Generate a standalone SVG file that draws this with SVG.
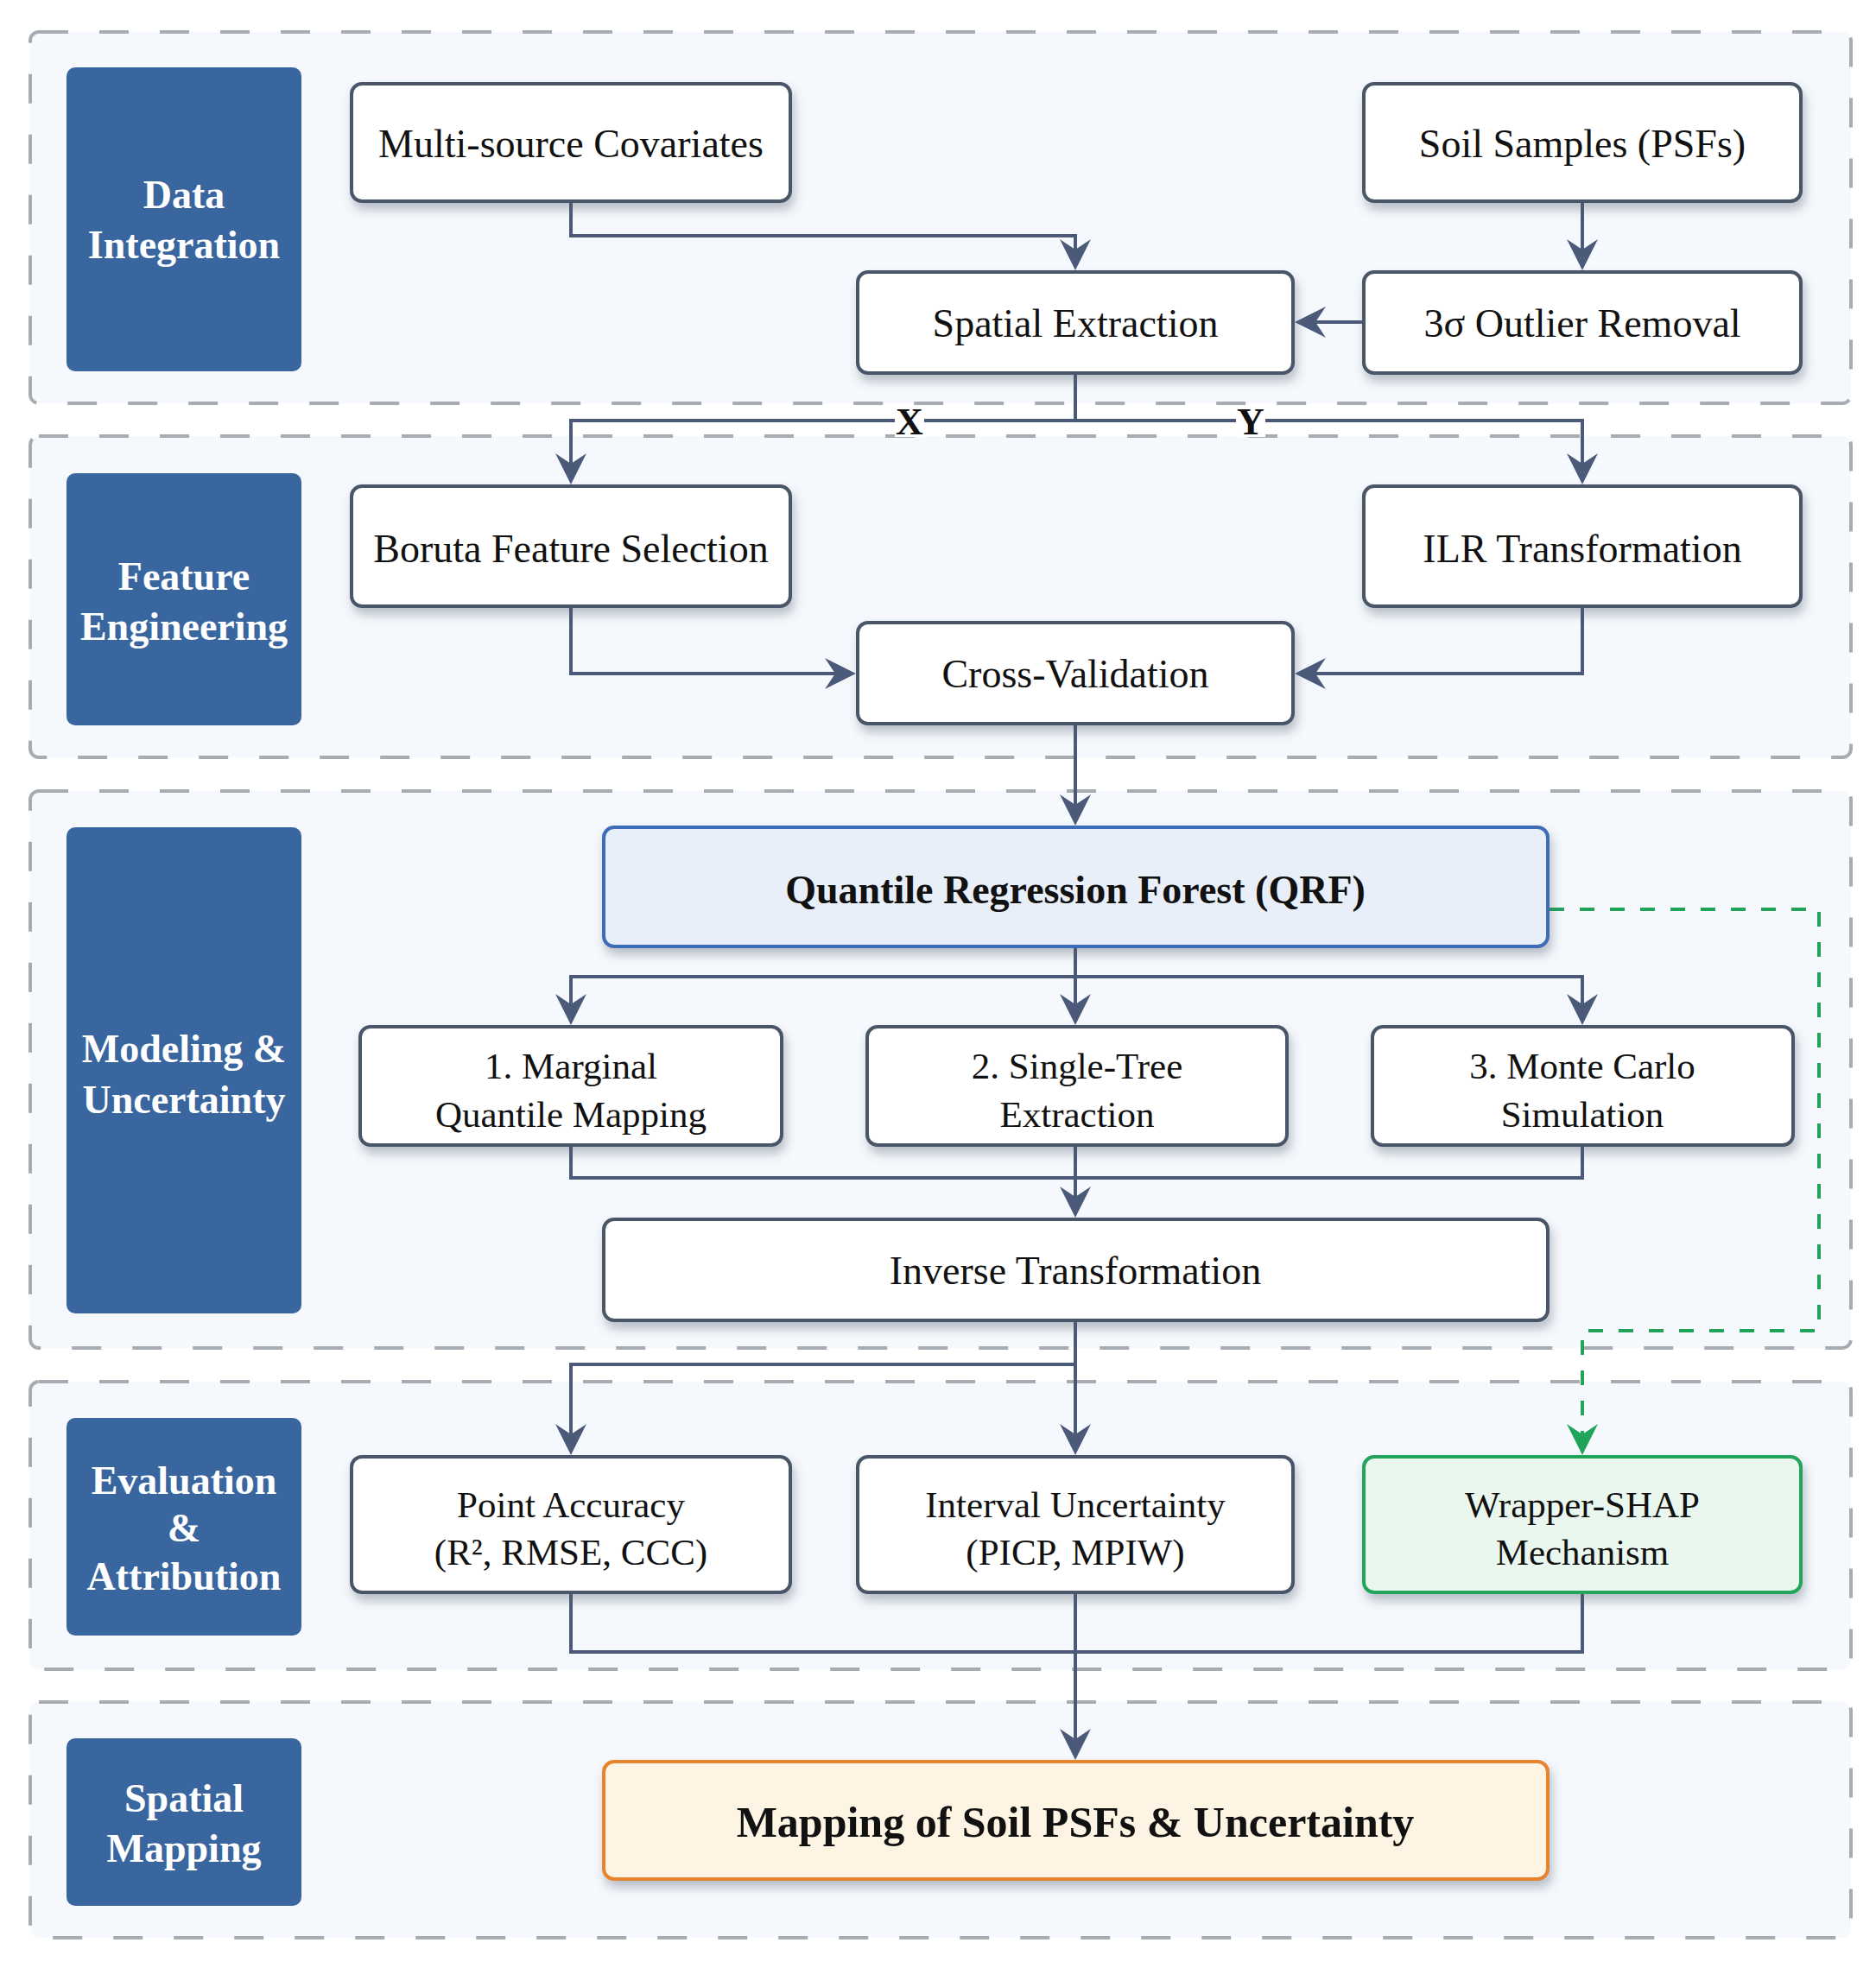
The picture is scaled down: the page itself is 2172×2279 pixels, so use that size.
<svg xmlns="http://www.w3.org/2000/svg" width="2172" height="2279" viewBox="0 0 2172 2279">
<style>
.sec{fill:#f5f8fc;stroke:#a7acb3;stroke-width:4;stroke-dasharray:34 36}
.lbl{fill:#3a66a0}
.lt{font-family:"Liberation Serif","Times New Roman",serif;font-weight:bold;font-size:46px;fill:#ffffff;text-anchor:middle;dominant-baseline:central}
.node{fill:#ffffff;stroke:#4a5468;stroke-width:4}
.t{font-family:"Liberation Serif","Times New Roman",serif;font-size:46px;fill:#111111;text-anchor:middle;dominant-baseline:central}
.t2{font-family:"Liberation Serif","Times New Roman",serif;font-size:43px;fill:#111111;text-anchor:middle;dominant-baseline:central}
.tb{font-family:"Liberation Serif","Times New Roman",serif;font-weight:bold;font-size:46px;fill:#111111;text-anchor:middle;dominant-baseline:central}
.conn{fill:none;stroke:#4b5a78;stroke-width:4}
.green{fill:none;stroke:#22a35a;stroke-width:4;stroke-dasharray:17 18}
</style>
<defs>
<filter id="sh" x="-10%" y="-20%" width="130%" height="160%">
<feDropShadow dx="3" dy="8" stdDeviation="6" flood-color="#4a5468" flood-opacity="0.35"/>
</filter>
<marker id="ah" markerUnits="userSpaceOnUse" markerWidth="36" markerHeight="36" refX="30" refY="18" orient="auto">
<path d="M0,0 L36,18 L0,36 L12,18 Z" fill="#4b5a78"/>
</marker>
<marker id="ahg" markerUnits="userSpaceOnUse" markerWidth="36" markerHeight="36" refX="30" refY="18" orient="auto">
<path d="M0,0 L36,18 L0,36 L12,18 Z" fill="#22a35a"/>
</marker>
</defs>
<rect width="2172" height="2279" fill="#ffffff"/>

<g id="sections">
<rect class="sec" x="35" y="37" width="2108" height="430" rx="10"/>
<rect class="sec" x="35" y="505" width="2108" height="372" rx="10"/>
<rect class="sec" x="35" y="916" width="2108" height="645" rx="10"/>
<rect class="sec" x="35" y="1600" width="2108" height="333" rx="10"/>
<rect class="sec" x="35" y="1971" width="2108" height="273" rx="10"/>
</g>

<g id="connectors">
<path class="conn" d="M661,233 V273 H1245 V307" marker-end="url(#ah)"/>
<path class="conn" d="M1832,233 V307" marker-end="url(#ah)"/>
<path class="conn" d="M1579,373 H1505" marker-end="url(#ah)"/>
<path class="conn" d="M1245,432 V487"/>
<path class="conn" d="M1245,487 H661 V555" marker-end="url(#ah)"/>
<path class="conn" d="M1245,487 H1832 V555" marker-end="url(#ah)"/>
<path class="conn" d="M661,702 V780 H985" marker-end="url(#ah)"/>
<path class="conn" d="M1832,702 V780 H1505" marker-end="url(#ah)"/>
<path class="conn" d="M1245,838 V950" marker-end="url(#ah)"/>
<path class="conn" d="M1245,1096 V1181" marker-end="url(#ah)"/>
<path class="conn" d="M1245,1131 H661 V1181" marker-end="url(#ah)"/>
<path class="conn" d="M1245,1131 H1832 V1181" marker-end="url(#ah)"/>
<path class="conn" d="M661,1326 V1364 H1832 V1326"/>
<path class="conn" d="M1245,1326 V1404" marker-end="url(#ah)"/>
<path class="conn" d="M1245,1529 V1679" marker-end="url(#ah)"/>
<path class="conn" d="M1245,1580 H661 V1679" marker-end="url(#ah)"/>
<path class="conn" d="M661,1844 V1913 H1832 V1844"/>
<path class="conn" d="M1245,1844 V2032" marker-end="url(#ah)"/>
<path class="green" d="M1794,1053 H2106 V1541 H1832 V1679" marker-end="url(#ahg)"/>
<rect x="1036" y="470" width="34" height="36" fill="#ffffff"/>
<rect x="1431" y="470" width="34" height="36" fill="#ffffff"/>
<text class="tb" x="1053" y="488" style="font-size:44px">X</text>
<text class="tb" x="1448" y="488" style="font-size:44px">Y</text>
</g>

<g id="label-data-integration">
<rect class="lbl" x="77" y="78" width="272" height="352" rx="10"/>
<text class="lt" x="213" y="225">Data</text>
<text class="lt" x="213" y="283">Integration</text>
</g>
<g id="label-feature-engineering">
<rect class="lbl" x="77" y="548" width="272" height="292" rx="10"/>
<text class="lt" x="213" y="667">Feature</text>
<text class="lt" x="213" y="725">Engineering</text>
</g>
<g id="label-modeling">
<rect class="lbl" x="77" y="958" width="272" height="563" rx="10"/>
<text class="lt" x="213" y="1214">Modeling &amp;</text>
<text class="lt" x="213" y="1273">Uncertainty</text>
</g>
<g id="label-evaluation">
<rect class="lbl" x="77" y="1642" width="272" height="252" rx="10"/>
<text class="lt" x="213" y="1714">Evaluation</text>
<text class="lt" x="213" y="1769">&amp;</text>
<text class="lt" x="213" y="1825">Attribution</text>
</g>
<g id="label-spatial-mapping">
<rect class="lbl" x="77" y="2013" width="272" height="194" rx="10"/>
<text class="lt" x="213" y="2082">Spatial</text>
<text class="lt" x="213" y="2140">Mapping</text>
</g>

<g id="node-covariates">
<rect class="node" x="407" y="97" width="508" height="136" rx="12" filter="url(#sh)"/>
<text class="t" x="661" y="166">Multi-source Covariates</text>
</g>
<g id="node-soil-samples">
<rect class="node" x="1579" y="97" width="506" height="136" rx="12" filter="url(#sh)"/>
<text class="t" x="1832" y="166">Soil Samples (PSFs)</text>
</g>
<g id="node-spatial-extraction">
<rect class="node" x="993" y="315" width="504" height="117" rx="12" filter="url(#sh)"/>
<text class="t" x="1245" y="374">Spatial Extraction</text>
</g>
<g id="node-outlier">
<rect class="node" x="1579" y="315" width="506" height="117" rx="12" filter="url(#sh)"/>
<text class="t" x="1832" y="374">3σ Outlier Removal</text>
</g>
<g id="node-boruta">
<rect class="node" x="407" y="563" width="508" height="139" rx="12" filter="url(#sh)"/>
<text class="t" x="661" y="635">Boruta Feature Selection</text>
</g>
<g id="node-ilr">
<rect class="node" x="1579" y="563" width="506" height="139" rx="12" filter="url(#sh)"/>
<text class="t" x="1832" y="635">ILR Transformation</text>
</g>
<g id="node-cv">
<rect class="node" x="993" y="721" width="504" height="117" rx="12" filter="url(#sh)"/>
<text class="t" x="1245" y="780">Cross-Validation</text>
</g>
<g id="node-qrf">
<rect class="node" x="699" y="958" width="1093" height="138" rx="12" filter="url(#sh)" style="fill:#e9eff9;stroke:#3d6cb9"/>
<text class="tb" x="1245" y="1030">Quantile Regression Forest (QRF)</text>
</g>
<g id="node-marginal">
<rect class="node" x="417" y="1189" width="488" height="137" rx="12" filter="url(#sh)"/>
<text class="t2" x="661" y="1234">1. Marginal</text>
<text class="t2" x="661" y="1290">Quantile Mapping</text>
</g>
<g id="node-single-tree">
<rect class="node" x="1004" y="1189" width="486" height="137" rx="12" filter="url(#sh)"/>
<text class="t2" x="1247" y="1234">2. Single-Tree</text>
<text class="t2" x="1247" y="1290">Extraction</text>
</g>
<g id="node-monte-carlo">
<rect class="node" x="1589" y="1189" width="487" height="137" rx="12" filter="url(#sh)"/>
<text class="t2" x="1832" y="1234">3. Monte Carlo</text>
<text class="t2" x="1832" y="1290">Simulation</text>
</g>
<g id="node-inverse">
<rect class="node" x="699" y="1412" width="1093" height="117" rx="12" filter="url(#sh)"/>
<text class="t" x="1245" y="1471">Inverse Transformation</text>
</g>
<g id="node-point-accuracy">
<rect class="node" x="407" y="1687" width="508" height="157" rx="12" filter="url(#sh)"/>
<text class="t2" x="661" y="1742">Point Accuracy</text>
<text class="t2" x="661" y="1797">(R², RMSE, CCC)</text>
</g>
<g id="node-interval">
<rect class="node" x="993" y="1687" width="504" height="157" rx="12" filter="url(#sh)"/>
<text class="t2" x="1245" y="1742">Interval Uncertainty</text>
<text class="t2" x="1245" y="1797">(PICP, MPIW)</text>
</g>
<g id="node-shap">
<rect class="node" x="1579" y="1687" width="506" height="157" rx="12" filter="url(#sh)" style="fill:#e9f7ee;stroke:#23a55a"/>
<text class="t2" x="1832" y="1742">Wrapper-SHAP</text>
<text class="t2" x="1832" y="1797">Mechanism</text>
</g>
<g id="node-mapping">
<rect class="node" x="699" y="2040" width="1093" height="136" rx="12" filter="url(#sh)" style="fill:#fef4e4;stroke:#e5832f"/>
<text class="tb" x="1245" y="2110" style="font-size:50px">Mapping of Soil PSFs &amp; Uncertainty</text>
</g>
</svg>
